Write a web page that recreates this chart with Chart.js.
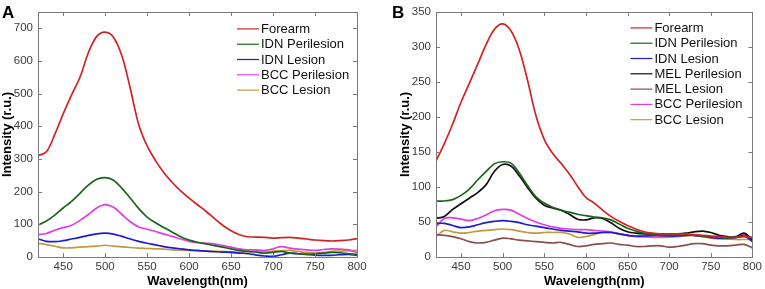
<!DOCTYPE html>
<html>
<head>
<meta charset="utf-8">
<script src="https://cdn.jsdelivr.net/npm/chart.js@4.4.0/dist/chart.umd.min.js"></script>
<style>
  html, body { margin: 0; padding: 0; background: #fff; }
  #wrapA { position: absolute; left: 0; top: 0; width: 380px; height: 289px; }
  #wrapB { position: absolute; left: 380px; top: 0; width: 385px; height: 289px; }
</style>
</head>
<body>
<div id="wrapA"><canvas id="chartA"></canvas></div>
<div id="wrapB"><canvas id="chartB"></canvas></div>
<script>
// wavelength grid (nm)
var wavelengths = [420, 430, 440, 450, 460, 470, 480, 490, 500, 510, 520, 530, 540, 550, 560, 570, 580, 590, 600,
    610, 620, 630, 640, 650, 660, 670, 680, 690, 700, 710, 720, 730, 740, 750, 760, 770, 780, 790, 800];

var xTicks = [450, 500, 550, 600, 650, 700, 750, 800];
var yTicksA = [0, 100, 200, 300, 400, 500, 600, 700];
var yTicksB = [0, 50, 100, 150, 200, 250, 300, 350];

// panel A
var forearmA = [310, 322, 375, 438, 496, 550, 625, 675, 688, 672, 615, 515, 405, 340, 295, 258, 228, 202, 180,
    160, 140, 118, 97, 80, 68, 62, 61, 60, 58, 59, 60, 58, 55, 52, 50, 49, 50, 52, 56];
var idnPeriA = [98, 110, 128, 150, 170, 195, 220, 238, 243, 235, 210, 180, 148, 122, 105, 90, 76, 62, 52,
    45, 40, 35, 30, 25, 20, 17, 15, 12, 14, 17, 12, 10, 8, 10, 12, 14, 13, 10, 8];
var idnLesA = [56, 48, 47, 50, 55, 60, 66, 71, 73, 70, 63, 55, 48, 42, 37, 32, 28, 25, 22,
    20, 18, 16, 15, 14, 12, 10, 6, 3, 2, 7, 12, 10, 8, 6, 5, 5, 7, 8, 5];
var bccPeriA = [68, 72, 82, 90, 97, 112, 130, 150, 160, 152, 130, 108, 92, 85, 78, 70, 63, 55, 48,
    44, 42, 40, 35, 30, 25, 22, 22, 20, 25, 32, 27, 24, 22, 20, 23, 25, 24, 22, 14];
var bccLesA = [42, 38, 33, 28, 28, 30, 32, 33, 36, 33, 31, 29, 27, 26, 25, 24, 22, 21, 20,
    19, 19, 18, 17, 16, 15, 16, 17, 17, 18, 19, 20, 17, 14, 12, 14, 17, 18, 19, 20];

// panel B
var forearmB = [137, 162, 190, 221, 248, 275, 303, 325, 333, 323, 296, 252, 202, 168, 148, 134, 119, 101, 85,
    77, 67, 58, 51, 45, 40, 36, 34, 33, 33, 33, 33, 32, 31, 30, 29, 28, 28, 29, 28];
var idnPeriB = [80, 80, 82, 88, 97, 110, 122, 133, 136, 134, 120, 102, 86, 77, 71, 67, 64, 61, 59,
    57, 56, 53, 47, 41, 37, 34, 32, 31, 31, 31, 32, 31, 30, 29, 28, 27, 28, 30, 27];
var idnLesB = [48, 48, 45, 42, 43, 46, 49, 51, 52, 51, 49, 46, 44, 42, 40, 38, 37, 36, 34,
    34, 35, 35, 33, 31, 30, 30, 31, 31, 30, 30, 31, 31, 30, 28, 27, 27, 28, 30, 22];
var melPeriB = [55, 58, 68, 76, 84, 92, 103, 122, 132, 130, 116, 99, 84, 74, 70, 67, 61, 54, 53,
    56, 55, 49, 41, 36, 34, 33, 33, 33, 33, 33, 34, 36, 37, 35, 31, 29, 29, 34, 24];
var melLesB = [32, 31, 29, 26, 22, 20, 21, 24, 27, 26, 24, 23, 22, 21, 20, 21, 18, 15, 16,
    18, 19, 20, 18, 17, 15, 15, 16, 16, 14, 15, 17, 19, 19, 17, 16, 16, 17, 18, 13];
var bccPeriB = [43, 55, 56, 54, 52, 55, 60, 66, 68, 67, 61, 55, 50, 46, 43, 41, 40, 39, 39,
    38, 37, 36, 33, 31, 29, 29, 29, 29, 30, 31, 32, 31, 29, 28, 27, 26, 28, 32, 27];
var bccLesB = [29, 38, 36, 34, 35, 37, 38, 39, 40, 39, 37, 35, 34, 35, 35, 35, 33, 28, 29,
    32, 35, 35, 33, 31, 30, 29, 28, 28, 28, 29, 30, 31, 29, 27, 26, 26, 25, 25, 25];

var FONT = '"Liberation Sans", Arial, Helvetica, sans-serif';

function pts(vals) {
    return wavelengths.map(function(w, i) { return { x: w, y: vals[i] }; });
}

function ds(label, color, vals) {
    return {
        label: label,
        data: pts(vals),
        borderColor: color,
        backgroundColor: color,
        borderWidth: 1.7,
        pointRadius: 0,
        tension: 0.35,
        fill: false
    };
}

// box, inward ticks, in-plot legend and panel letter
var matlabBox = {
    id: 'matlabBox',
    afterDraw: function(chart, args, opts) {
        var ctx = chart.ctx;
        var a = chart.chartArea;
        var xs = chart.scales.x, ys = chart.scales.y;
        ctx.save();
        ctx.strokeStyle = '#7a7a7a';
        ctx.lineWidth = 1;
        ctx.strokeRect(Math.round(a.left) + 0.5, Math.round(a.top) + 0.5,
            Math.round(a.right - a.left), Math.round(a.bottom - a.top));
        ctx.beginPath();
        xs.ticks.forEach(function(t) {
            var px = Math.round(xs.getPixelForValue(t.value)) + 0.5;
            ctx.moveTo(px, a.bottom); ctx.lineTo(px, a.bottom - 4);
            ctx.moveTo(px, a.top); ctx.lineTo(px, a.top + 4);
        });
        ys.ticks.forEach(function(t) {
            var py = Math.round(ys.getPixelForValue(t.value)) + 0.5;
            ctx.moveTo(a.left, py); ctx.lineTo(a.left + 4, py);
            ctx.moveTo(a.right, py); ctx.lineTo(a.right - 4, py);
        });
        ctx.stroke();

        // legend
        ctx.font = '13px ' + FONT;
        ctx.textBaseline = 'middle';
        ctx.fillStyle = '#111';
        chart.data.datasets.forEach(function(d, i) {
            var y = a.top + opts.legendTop + i * 15.3;
            ctx.strokeStyle = d.borderColor;
            ctx.lineWidth = 1.2;
            ctx.beginPath();
            ctx.moveTo(a.right - opts.legendRight, y);
            ctx.lineTo(a.right - opts.legendRight + 22, y);
            ctx.stroke();
            ctx.fillText(d.label, a.right - opts.legendRight + 24, y + 0.5);
        });

        // panel letter
        ctx.font = 'bold 17px ' + FONT;
        ctx.textBaseline = 'alphabetic';
        ctx.fillStyle = '#000';
        ctx.fillText(opts.letter, opts.letterX, 18);
        ctx.restore();
    }
};

function makeOptions(yMax, yTicks, pad, letter, letterX, legendRight, legendTop) {
    return {
        animation: false,
        responsive: true,
        maintainAspectRatio: false,
        layout: { padding: pad },
        plugins: {
            legend: { display: false },
            tooltip: { enabled: false },
            matlabBox: { letter: letter, letterX: letterX, legendRight: legendRight, legendTop: legendTop }
        },
        scales: {
            x: {
                type: 'linear',
                min: 420,
                max: 800,
                afterBuildTicks: function(scale) {
                    scale.ticks = xTicks.map(function(v) { return { value: v }; });
                },
                afterFit: function(scale) { scale.height = 32; },
                grid: { display: false, drawTicks: false },
                border: { display: false },
                ticks: { color: '#3a3a3a', font: { family: FONT, size: 11.5 }, padding: 3, maxRotation: 0 },
                title: {
                    display: true,
                    text: 'Wavelength(nm)',
                    color: '#000',
                    font: { family: FONT, size: 13, weight: 'bold' },
                    padding: { top: 0, bottom: 0 }
                }
            },
            y: {
                type: 'linear',
                min: 0,
                max: yMax,
                afterBuildTicks: function(scale) {
                    scale.ticks = yTicks.map(function(v) { return { value: v }; });
                },
                afterFit: function(scale) { scale.width = 38; },
                grid: { display: false, drawTicks: false },
                border: { display: false },
                ticks: { color: '#3a3a3a', font: { family: FONT, size: 11.5 }, padding: 5 },
                title: {
                    display: true,
                    text: 'Intensity (r.u.)',
                    color: '#000',
                    font: { family: FONT, size: 13, weight: 'bold' },
                    padding: { top: 0, bottom: 0 }
                }
            }
        }
    };
}

var chartA = new Chart(document.getElementById('chartA'), {
    type: 'line',
    data: {
        datasets: [
            ds('Forearm', '#d42222', forearmA),
            ds('IDN Perilesion', '#1b651b', idnPeriA),
            ds('IDN Lesion', '#1c1cd2', idnLesA),
            ds('BCC Perilesion', '#e13de1', bccPeriA),
            ds('BCC Lesion', '#c39a3c', bccLesA)
        ]
    },
    options: makeOptions(750, yTicksA, { left: 0, right: 23, top: 5, bottom: 0 }, 'A', 2, 120, 17),
    plugins: [matlabBox]
});

var chartB = new Chart(document.getElementById('chartB'), {
    type: 'line',
    data: {
        datasets: [
            ds('Forearm', '#d42222', forearmB),
            ds('IDN Perilesion', '#1b651b', idnPeriB),
            ds('IDN Lesion', '#1c1cd2', idnLesB),
            ds('MEL Perilesion', '#111111', melPeriB),
            ds('MEL Lesion', '#8a4f4f', melLesB),
            ds('BCC Perilesion', '#e13de1', bccPeriB),
            ds('BCC Lesion', '#c39a3c', bccLesB)
        ]
    },
    options: makeOptions(350, yTicksB, { left: 18, right: 9, top: 6, bottom: 0 }, 'B', 12, 122, 16),
    plugins: [matlabBox]
});
</script>
</body>
</html>
